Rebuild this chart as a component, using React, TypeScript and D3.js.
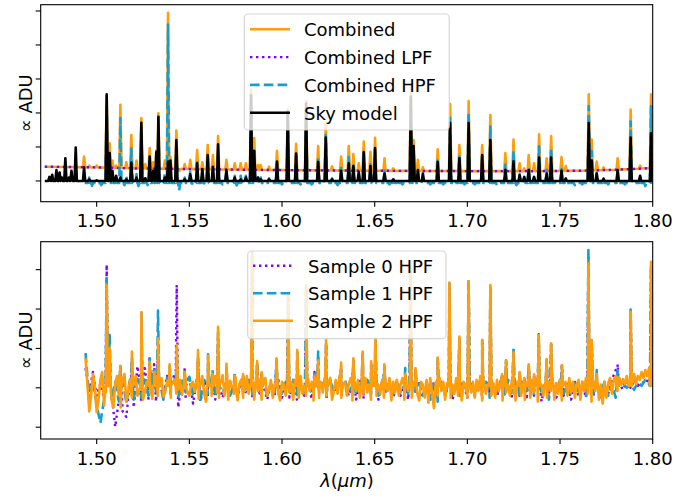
import React from "react";
import * as d3 from "d3";

const W = 678;
const H = 499;
const FONT = "'DejaVu Sans', sans-serif";

// ---------- axes ----------
const xDomain = [1.4698, 1.8];
const xTicks = [1.5, 1.55, 1.6, 1.65, 1.7, 1.75, 1.8];
const topYDomain = [-0.61, 5.185];
const topYTicks = [0, 1, 2, 3, 4, 5];
const botYDomain = [-1.3, 3.71];
const botYTicks = [-1, 0, 1, 2, 3];

// ---------- colours ----------
const C_ORANGE = "#ff9d0a";
const C_PURPLE = "#7b00ff";
const C_BLUE = "#159fd0";
const C_BLACK = "#000000";

// ---------- top panel data ----------
const combinedStart = 1.472;
const hpfStart = 1.4935;
const spectrumEnd = 1.8;

// Combined LPF (smooth continuum)
const lpfWl = [1.472, 1.5, 1.52, 1.55, 1.58, 1.6, 1.65, 1.7, 1.74, 1.76, 1.78, 1.8];
const lpfVal = [0.42, 0.4, 0.37, 0.35, 0.33, 0.32, 0.3, 0.29, 0.29, 0.3, 0.33, 0.38];

// Emission lines: wavelength and peak values per series (null = no line)
const topWl = [
  1.4745, 1.476, 1.4783, 1.48, 1.4812, 1.4831, 1.485, 1.4864, 1.4887, 1.4932,
  1.496, 1.4975, 1.5, 1.5025, 1.5054, 1.507, 1.5085, 1.5105, 1.5128, 1.515,
  1.516, 1.5187, 1.5215, 1.5225, 1.5241, 1.5262, 1.5275, 1.5286, 1.5305, 1.5322,
  1.5333, 1.5355, 1.5368, 1.5385, 1.5398, 1.543, 1.5445, 1.5475, 1.5505, 1.552,
  1.5542, 1.557, 1.5585, 1.5599, 1.5627, 1.5655, 1.568, 1.57, 1.5745, 1.5755,
  1.5777, 1.5805, 1.5833, 1.585, 1.587, 1.5885, 1.59, 1.593, 1.5973, 1.6,
  1.6031, 1.6076, 1.61, 1.613, 1.616, 1.6195, 1.6236, 1.627, 1.63, 1.6319,
  1.636, 1.6385, 1.6414, 1.6441, 1.6477, 1.6502, 1.6553, 1.658, 1.66, 1.6625,
  1.665, 1.6695, 1.671, 1.6733, 1.676, 1.68, 1.684, 1.687, 1.6907, 1.693,
  1.6957, 1.6985, 1.7007, 1.704, 1.708, 1.7124, 1.716, 1.7205, 1.7249, 1.7265,
  1.7282, 1.7307, 1.7331, 1.736, 1.7387, 1.7428, 1.7452, 1.748, 1.7508, 1.7531,
  1.758, 1.762, 1.7655, 1.7671, 1.7698, 1.7735, 1.776, 1.7811, 1.785, 1.7881,
  1.7932, 1.796, 1.7991,
];
const skyPeak = [
  0.12, 0.18, 0.32, 0.25, 0.1, 0.67, 0.1, 0.3, 0.98, 0.4,
  0.05, null, 0.02, null, 2.55, 0.82, 0.3, 0.15, 0.1, null,
  0.05, 0.54, 0.1, null, 1.71, 0.08, null, 0.72, 0.3, 0.86,
  1.89, null, 0.1, 0.57, 0.6, 1.2, null, 0.05, 0.2, null,
  0.52, 0.35, null, 0.76, 0.42, 1.08, null, 0.32, 0.1, null,
  0.05, 0.1, 2.53, 0.88, 0.1, 0.05, null, 0.05, 0.57, null,
  2.04, 0.81, null, 2.28, null, 0.56, 1.28, 0.05, null, 0.3,
  0.52, 0.44, 0.27, 0.85, 0.44, 0.97, 0.22, null, 0.05, null,
  null, 2.48, 1.03, 0.32, 0.22, null, 0.56, null, 1.7, null,
  0.67, null, 1.7, null, 0.76, 1.2, null, 0.33, 0.58, null,
  0.17, 0.12, 0.32, 0.12, 0.69, 0.22, 0.69, null, 0.3, 0.07,
  null, null, 1.7, 0.6, 0.22, 0.07, null, 0.32, null, 1.28,
  0.15, null, 1.4,
];
const combinedPeak = [
  null, null, null, null, null, null, null, null, null, 0.72,
  0.45, null, 0.45, null, 2.5, 1.11, 0.6, 0.45, 2.24, null,
  0.55, 1.35, 0.6, null, 1.85, 0.5, null, 0.97, 0.55, 0.9,
  1.99, null, 0.6, 4.95, 0.7, 1.48, 0.3, 0.5, 0.62, null,
  0.91, 0.55, null, 1.06, 0.76, 1.32, null, 0.62, 0.52, null,
  0.52, 0.52, 2.7, 1.26, 0.47, 0.47, null, 0.42, 0.89, null,
  2.1, 1.09, null, 2.35, null, 1.03, 1.72, 0.43, null, 0.72,
  1.03, 0.79, 0.52, 1.16, 0.86, 1.27, 0.67, null, 0.37, null,
  null, 2.79, 1.2, 0.62, 0.4, null, 0.93, null, 2.26, null,
  1.06, null, 2.35, null, 1.06, 1.94, null, 0.82, 1.22, null,
  0.52, 0.37, 0.76, 0.52, 1.37, 0.67, 1.32, null, 0.7, 0.44,
  null, null, 2.55, 1.22, 0.57, 0.4, null, 0.67, null, 2.1,
  0.45, null, 2.55,
];
const hpfPeak = [
  null, null, null, null, null, null, null, null, null, null,
  0.1, -0.14, -0.1, -0.12, 2.2, 0.8, 0.2, 0.1, 1.85, -0.12,
  0.15, 0.95, 0.2, -0.15, 1.5, 0.12, -0.12, 0.6, 0.2, 0.55,
  1.6, -0.1, 0.25, 4.6, 0.3, 1.1, -0.28, 0.1, 0.28, -0.12,
  0.55, 0.2, -0.12, 0.7, 0.4, 0.95, -0.1, 0.28, 0.15, -0.13,
  0.15, 0.15, 2.35, 0.9, 0.1, 0.1, -0.1, 0.08, 0.55, -0.1,
  1.75, 0.75, -0.1, 2.0, -0.1, 0.68, 1.35, 0.08, -0.12, 0.38,
  0.7, 0.45, 0.2, 0.8, 0.5, 0.92, 0.3, -0.1, 0.1, 0.08,
  -0.1, 2.45, 0.85, 0.28, 0.1, -0.1, 0.6, -0.1, 1.9, -0.12,
  0.72, -0.1, 2.0, -0.1, 0.72, 1.6, -0.12, 0.48, 0.88, -0.12,
  0.2, 0.05, 0.42, 0.15, 1.02, 0.33, 0.97, -0.1, 0.35, 0.08,
  -0.12, -0.1, 2.2, 0.88, 0.25, 0.05, -0.1, 0.3, -0.1, 1.75,
  0.1, -0.15, 2.2,
];
const hpfBase = -0.06;
const skyBase = 0;

// ---------- bottom panel data ----------
const noiseStart = 1.494;
const sample0Step = 0.002;
const sample1Step = 0.002;
const sample2Step = 0.001;
const sample0Noise = [
  0.5, -0.1, 0.4, -0.2, 0.1, -0.25, 0.35, -0.15, -0.99, -0.3, -0.6, -0.74, 0.2, -0.5,
  0.55, -0.35, 0.5, -0.3, 0.3, -0.35, 0.15, -0.25, 0.3, -0.2, 0.35, -0.5, 0.2, -0.3, 0.3, -0.4, 0.2, -0.35, 0.15, -0.25,
  0.1, -0.3, 0.2, -0.25, 0.15, -0.2, 0.1, -0.3, 0.2, -0.15, 0.1, -0.25, 0.15, -0.2, 0.05, -0.3, 0.12, -0.2, 0.2, -0.25,
  0.1, -0.25, 0.15, -0.3, 0.1, -0.2, 0.15, -0.28, 0.25, -0.15, 0.1, -0.3, 0.2, -0.15, 0.1, -0.25, 0.12, -0.2, 0.15, -0.3,
  0.2, -0.28, 0.12, -0.2, 0.15, -0.3, 0.1, -0.15, 0.18, -0.25, 0.1, -0.2, 0.15, -0.3, 0.2, -0.1, 0.12, -0.25, 0.1, -0.2,
  0.15, -0.25, 0.1, -0.2, 0.18, -0.3, 0.12, -0.15, 0.1, -0.25, 0.15, -0.2, 0.1, -0.28, 0.15, -0.15, 0.1, -0.22, 0.15, -0.2,
  0.12, -0.25, 0.15, -0.2, 0.1, -0.3, 0.12, -0.2, 0.15, -0.35, 0.1, -0.15, 0.2, -0.25, 0.12, -0.2, 0.1, -0.3, 0.15, -0.2,
  0.1, -0.25, 0.15, -0.2, 0.12, -0.3, 0.1, -0.15, 0.2, 0.45, 0.1, -0.05, 0.15, 0.0, 0.2, 0.05, 0.15, 0.1, 0.25, 0.2,
];
const sample1Noise = [
  0.88, -0.3, 0.2, -0.45, -0.89, -0.3, 0.35, -0.3, 0.15, -0.35, 0.25, -0.4, 0.2, -0.3,
  0.3, -0.25, 0.2, -0.2, 0.35, -0.1, 0.15, -0.3, 0.25, -0.15, 0.2, -0.25, 0.18, -0.12, 0.28, -0.2, 0.1, -0.3, 0.2, -0.15,
  0.2, -0.22, 0.15, -0.12, 0.25, -0.2, 0.1, -0.15, 0.18, -0.08, 0.2, -0.2, 0.12, -0.1, 0.15, -0.2, 0.1, -0.12, 0.18, -0.15,
  0.15, -0.1, 0.2, -0.18, 0.1, -0.2, 0.12, -0.15, 0.2, -0.1, 0.12, -0.22, 0.18, -0.1, 0.08, -0.15, 0.2, -0.12, 0.1, -0.18,
  0.15, -0.1, 0.2, -0.15, 0.1, -0.2, 0.15, -0.08, 0.12, -0.18, 0.2, -0.12, 0.08, -0.15, 0.18, -0.1, 0.1, -0.2, 0.15, -0.3,
  0.1, -0.35, 0.15, -0.1, 0.2, -0.15, 0.08, -0.2, 0.15, -0.12, 0.1, -0.18, 0.2, -0.1, 0.15, -0.25, 0.1, -0.12, 0.18, -0.2,
  0.2, -0.12, 0.1, -0.25, 0.15, -0.1, 0.18, -0.2, 0.12, -0.15, 0.1, -0.3, 0.15, -0.1, 0.2, -0.15, 0.08, -0.18, 0.12, -0.1,
  0.15, -0.2, 0.35, -0.15, 0.1, -0.12, 0.15, -0.2, 0.1, -0.25, 0.05, 0.12, 0.0, 0.2, -0.05, 0.15, 0.05, 0.2, 0.1, 0.3,
];
const sample2Noise = [
  0.75, 0.1, -0.6, -0.2, 0.35, 0.05, -0.62, -0.3, 0.2, 0.4,
  -0.45, -0.1, 0.3, 0.05, -0.3, -0.5, 0.1, 0.3, -0.2, -0.5,
  0.15, 0.35, -0.35, -0.1, 0.2, -0.25, 0.1, 0.3, -0.2, -0.05,
  0.25, -0.3, -0.1, 0.15, 0.2, -0.15, -0.28, 0.1, 0.3, -0.2,
  0.05, 0.25, -0.22, -0.1, 0.18, 0.05, -0.25, 0.12, 0.2, -0.15,
  -0.05, 0.2, -0.18, 0.08, 0.22, -0.12, -0.2, 0.1, 0.15, -0.1,
  0.2, -0.28, 0.08, 0.3, -0.15, -0.35, 0.22, 0.05, -0.2, 0.15,
  0.3, -0.12, -0.25, 0.15, 0.32, -0.2, 0.08, -0.3, 0.18, 0.02,
  -0.15, 0.25, -0.32, 0.1, 0.2, -0.25, -0.08, 0.3, -0.15, 0.08,
  0.15, -0.3, 0.25, -0.08, 0.2, -0.3, 0.1, 0.25, -0.2, -0.05,
  0.2, -0.25, 0.08, 0.3, -0.15, -0.32, 0.15, 0.08, -0.2, 0.25,
  -0.12, 0.15, -0.3, 0.2, 0.08, -0.25, 0.3, -0.15, 0.05, -0.2,
  0.25, -0.08, 0.15, -0.32, 0.2, 0.08, -0.25, 0.15, -0.12, 0.25,
  -0.2, 0.12, 0.25, -0.3, -0.08, 0.2, -0.15, 0.3, -0.25, 0.08,
  0.15, -0.2, 0.08, 0.25, -0.32, 0.12, -0.08, 0.2, -0.25, 0.15,
  -0.15, 0.25, -0.12, 0.08, -0.3, 0.2, 0.32, -0.2, 0.08, -0.15,
  0.2, -0.25, 0.12, -0.08, 0.25, -0.32, 0.15, -0.12, 0.2, -0.2,
  0.08, 0.25, -0.3, 0.15, -0.08, 0.2, -0.25, 0.12, 0.3, -0.15,
  -0.32, 0.15, 0.08, -0.25, 0.2, -0.38, 0.25, -0.15, -0.52, 0.15,
  -0.2, 0.25, -0.08, 0.15, -0.3, 0.12, 0.2, -0.25, 0.08, -0.15,
  0.25, -0.2, 0.12, -0.32, 0.15, 0.08, -0.25, 0.2, -0.12, 0.15,
  -0.25, 0.2, -0.08, 0.3, -0.32, 0.15, -0.15, 0.08, 0.25, -0.2,
  0.12, -0.25, 0.2, -0.08, 0.15, -0.32, 0.25, -0.12, 0.08, -0.2,
  0.2, -0.15, -0.32, 0.15, 0.25, -0.2, 0.08, -0.3, 0.15, 0.03,
  -0.25, 0.2, -0.12, 0.25, -0.35, 0.15, 0.08, -0.2, 0.12, -0.25,
  0.15, -0.08, 0.25, -0.3, 0.12, -0.15, 0.2, -0.32, 0.08, 0.15,
  -0.2, 0.25, -0.12, 0.15, -0.25, 0.08, 0.2, -0.3, 0.15, -0.08,
  0.25, -0.15, 0.3, -0.35, 0.15, -0.08, 0.2, -0.3, 0.08, -0.4,
  0.15, -0.25, 0.12, 0.25, -0.15, 0.2, 0.3, -0.08, 0.25, 0.08,
  0.22, 0.1, 0.3, 0.05, 0.25, 0.15, 0.35, 0.1, 0.3, 0.2,
  0.4, 0.25, 0.45, 0.3, 0.5, 0.35, 0.55,
];

const botWl = [
  1.5054, 1.507, 1.5128, 1.519, 1.5241, 1.5286, 1.531, 1.5331, 1.5394, 1.5432,
  1.5475, 1.5547, 1.5601, 1.5625, 1.5655, 1.57, 1.5745, 1.579, 1.5839, 1.5866,
  1.589, 1.597, 1.6033, 1.6082, 1.613, 1.6175, 1.6195, 1.6238, 1.6319, 1.6385,
  1.6435, 1.6481, 1.6504, 1.6552, 1.6665, 1.6693, 1.672, 1.684, 1.6903, 1.6957,
  1.7007, 1.708, 1.7124, 1.7187, 1.7209, 1.7249, 1.7282, 1.7307, 1.7331, 1.736,
  1.7385, 1.7428, 1.7452, 1.751, 1.7653, 1.7671, 1.7698, 1.7811, 1.7881, 1.7991,
];
const sample0Peak = [
  3.12, 1.0, 0.55, 0.7, 1.8, 0.79, 0.6, 1.1, 0.4, 2.61,
  0.5, 0.7, 0.7, 0.3, 1.3, 0.5, 0.3, 0.3, 3.2, 0.6,
  0.35, 0.7, 2.3, 0.9, 2.5, 0.4, 0.75, 1.1, 0.5, 0.7,
  0.8, 0.6, 1.2, 0.5, 0.3, 2.9, 0.45, 0.7, 2.6, 1.2,
  2.65, 1.15, 2.5, 0.35, 0.65, 0.9, 0.35, 0.25, 0.55, 0.3,
  1.36, 0.65, 1.1, 0.55, 3.3, 1.15, 0.4, 0.6, 1.9, 3.0,
];
const sample1Peak = [
  2.78, 1.34, 0.55, 0.75, 1.91, 0.75, 0.45, 1.96, 0.55, 1.0,
  0.4, 0.8, 0.85, 0.45, 1.4, 0.55, 0.37, 0.3, 3.3, 0.65,
  0.35, 0.7, 2.3, 0.9, 2.55, 0.35, 0.92, 1.15, 0.55, 0.7,
  0.85, 0.6, 1.25, 0.55, 0.5, 3.0, 0.5, 0.75, 2.65, 1.25,
  2.78, 1.21, 2.55, 0.3, 0.7, 1.03, 0.4, 0.25, 0.55, 0.3,
  1.3, 0.7, 1.1, 0.55, 3.5, 1.2, 0.45, 0.45, 1.99, 3.1,
];
const sample2Peak = [
  2.61, 1.0, 0.55, 0.92, 1.91, 0.66, 0.4, 1.26, 0.6, 1.09,
  0.4, 0.96, 0.81, 0.35, 1.55, 0.61, 0.3, 0.35, 3.45, 0.68,
  0.4, 0.75, 2.36, 0.96, 2.61, 0.3, 0.7, 1.21, 0.64, 0.75,
  0.92, 0.67, 1.26, 0.6, 0.35, 3.04, 0.5, 0.77, 2.67, 1.3,
  2.7, 1.21, 2.61, 0.34, 0.7, 0.9, 0.4, 0.25, 0.6, 0.34,
  1.34, 0.73, 1.13, 0.58, 3.16, 1.21, 0.35, 0.26, 1.93, 3.2,
];
const botFlank = 0.05;

// ---------- legends ----------
const topLegendLabels = ["Combined", "Combined LPF", "Combined HPF", "Sky model"];
const botLegendLabels = ["Sample 0 HPF", "Sample 1 HPF", "Sample 2 HPF"];

// ---------- layout ----------
const AX_LEFT = 40.7;
const AX_RIGHT = 652.7;
const TOP_T = 4.7;
const TOP_B = 201.7;
const BOT_T = 241.7;
const BOT_B = 439;
const HW = 0.0006;
const LW = 2.6;

type Pt = [number, number];

function buildSpikes(
  start: number,
  end: number,
  baseAt: (x: number) => number,
  wl: number[],
  peaks: (number | null)[]
): Pt[] {
  const pts: Pt[] = [[start, baseAt(start)]];
  wl.forEach((w, i) => {
    const p = peaks[i];
    if (p == null || w < start || w > end) return;
    pts.push([w - HW, baseAt(w - HW)], [w, p], [w + HW, baseAt(w + HW)]);
  });
  pts.push([end, baseAt(end)]);
  return pts.sort((a, b) => a[0] - b[0]);
}

function buildNoisy(noise: number[], step: number, wl: number[], peaks: number[]): Pt[] {
  const pts: Pt[] = noise.map((v, i) => [noiseStart + i * step, v]);
  wl.forEach((w, i) => {
    pts.push([w - HW, botFlank], [w, peaks[i]], [w + HW, botFlank]);
  });
  return pts.sort((a, b) => a[0] - b[0]);
}

type LegendItem = { label: string; color: string; dash?: string; width: number };

function Legend(props: {
  x0: number; x1: number; y0: number; y1: number;
  hx0: number; hx1: number; tx: number; rowY0: number; rowStep: number;
  items: LegendItem[];
}) {
  const { x0, x1, y0, y1, hx0, hx1, tx, rowY0, rowStep, items } = props;
  return (
    <g>
      <rect x={x0} y={y0} width={x1 - x0} height={y1 - y0} rx={4} ry={4}
        fill="#ffffff" fillOpacity={0.8} stroke="#cccccc" strokeOpacity={0.8} strokeWidth={1.2} />
      {items.map((it, i) => {
        const y = rowY0 + i * rowStep;
        return (
          <g key={it.label}>
            <line x1={hx0} x2={hx1} y1={y} y2={y} stroke={it.color} strokeWidth={it.width}
              strokeDasharray={it.dash} />
            <text x={tx} y={y + 7} fontFamily={FONT} fontSize={18} fill="#000">{it.label}</text>
          </g>
        );
      })}
    </g>
  );
}

function Axes(props: {
  yScale: d3.ScaleLinear<number, number>;
  yTicks: number[];
  top: number; bottom: number;
  labelBaseline: number;
  x: d3.ScaleLinear<number, number>;
}) {
  const { yScale, yTicks, top, bottom, labelBaseline, x } = props;
  return (
    <g>
      {xTicks.map((t) => (
        <g key={"x" + t}>
          <line x1={x(t)} x2={x(t)} y1={bottom} y2={bottom + 5} stroke="#000" strokeWidth={1.1} />
          <text x={x(t)} y={labelBaseline} textAnchor="middle" fontFamily={FONT} fontSize={18} fill="#000">
            {t.toFixed(2)}
          </text>
        </g>
      ))}
      {yTicks.map((t) => (
        <line key={"y" + t} x1={AX_LEFT - 5} x2={AX_LEFT} y1={yScale(t)} y2={yScale(t)} stroke="#000" strokeWidth={1.1} />
      ))}
      <rect x={AX_LEFT} y={top} width={AX_RIGHT - AX_LEFT} height={bottom - top}
        fill="none" stroke="#000" strokeWidth={1.1} />
      <text transform={`translate(32, ${(top + bottom) / 2}) rotate(-90)`} textAnchor="middle"
        fontFamily={FONT} fontSize={18} fill="#000">∝  ADU</text>
    </g>
  );
}

export default function App() {
  const x = d3.scaleLinear().domain(xDomain).range([AX_LEFT, AX_RIGHT]);
  const yTop = d3.scaleLinear().domain(topYDomain).range([TOP_B, TOP_T]);
  const yBot = d3.scaleLinear().domain(botYDomain).range([BOT_B, BOT_T]);
  const lpfScale = d3.scaleLinear().domain(lpfWl).range(lpfVal);

  const lineTop = d3.line<Pt>().x((d) => x(d[0])).y((d) => yTop(d[1]));
  const lineBot = d3.line<Pt>().x((d) => x(d[0])).y((d) => yBot(d[1]));

  const combined = buildSpikes(combinedStart, spectrumEnd, (w) => lpfScale(w), topWl, combinedPeak);
  const lpf: Pt[] = lpfWl.map((w, i) => [w, lpfVal[i]]);
  const hpf = buildSpikes(hpfStart, spectrumEnd, () => hpfBase, topWl, hpfPeak);
  const sky = buildSpikes(combinedStart, spectrumEnd, () => skyBase, topWl, skyPeak);

  const s0 = buildNoisy(sample0Noise, sample0Step, botWl, sample0Peak);
  const s1 = buildNoisy(sample1Noise, sample1Step, botWl, sample1Peak);
  const s2 = buildNoisy(sample2Noise, sample2Step, botWl, sample2Peak);

  const dot = `${2.4} ${3.6}`;
  const dash = `${9.6} ${4.2}`;

  const common = { fill: "none", strokeLinejoin: "round" as const };

  return (
    <svg width={W} height={H} viewBox={`0 0 ${W} ${H}`} style={{ display: "block", position: "absolute", left: 0, top: 0, background: "#fff" }}>
      <defs>
        <clipPath id="clipTop">
          <rect x={AX_LEFT} y={TOP_T} width={AX_RIGHT - AX_LEFT} height={TOP_B - TOP_T} />
        </clipPath>
        <clipPath id="clipBot">
          <rect x={AX_LEFT} y={BOT_T} width={AX_RIGHT - AX_LEFT} height={BOT_B - BOT_T} />
        </clipPath>
      </defs>
      <rect x={0} y={0} width={W} height={H} fill="#fff" />

      {/* top panel */}
      <g clipPath="url(#clipTop)">
        <path d={lineTop(combined) || ""} stroke={C_ORANGE} strokeWidth={LW} {...common} />
        <path d={lineTop(lpf) || ""} stroke={C_PURPLE} strokeWidth={2.4} strokeDasharray={dot} {...common} />
        <path d={lineTop(hpf) || ""} stroke={C_BLUE} strokeWidth={LW} strokeDasharray={dash} {...common} />
        <path d={lineTop(sky) || ""} stroke={C_BLACK} strokeWidth={LW} {...common} />
      </g>
      <Axes yScale={yTop} yTicks={topYTicks} top={TOP_T} bottom={TOP_B} labelBaseline={226.5} x={x} />
      <Legend x0={244.3} x1={449.3} y0={14} y1={130} hx0={250} hx1={290} tx={304} rowY0={29.3} rowStep={27.8}
        items={[
          { label: topLegendLabels[0], color: C_ORANGE, width: LW },
          { label: topLegendLabels[1], color: C_PURPLE, width: 2.4, dash: dot },
          { label: topLegendLabels[2], color: C_BLUE, width: LW, dash: dash },
          { label: topLegendLabels[3], color: C_BLACK, width: LW },
        ]} />

      {/* bottom panel */}
      <g clipPath="url(#clipBot)">
        <path d={lineBot(s0) || ""} stroke={C_PURPLE} strokeWidth={2.4} strokeDasharray={dot} {...common} />
        <path d={lineBot(s1) || ""} stroke={C_BLUE} strokeWidth={LW} strokeDasharray={dash} {...common} />
        <path d={lineBot(s2) || ""} stroke={C_ORANGE} strokeWidth={LW} {...common} />
      </g>
      <Axes yScale={yBot} yTicks={botYTicks} top={BOT_T} bottom={BOT_B} labelBaseline={465} x={x} />
      <Legend x0={247.7} x1={446} y0={251} y1={338.7} hx0={253} hx1={293} tx={308} rowY0={265.7} rowStep={27.5}
        items={[
          { label: botLegendLabels[0], color: C_PURPLE, width: 2.4, dash: dot },
          { label: botLegendLabels[1], color: C_BLUE, width: LW, dash: dash },
          { label: botLegendLabels[2], color: C_ORANGE, width: LW },
        ]} />

      <text x={347} y={487} textAnchor="middle" fontFamily={FONT} fontSize={18} fill="#000">
        <tspan fontStyle="italic">λ</tspan>
        <tspan>(</tspan>
        <tspan fontStyle="italic">μm</tspan>
        <tspan>)</tspan>
      </text>
    </svg>
  );
}
